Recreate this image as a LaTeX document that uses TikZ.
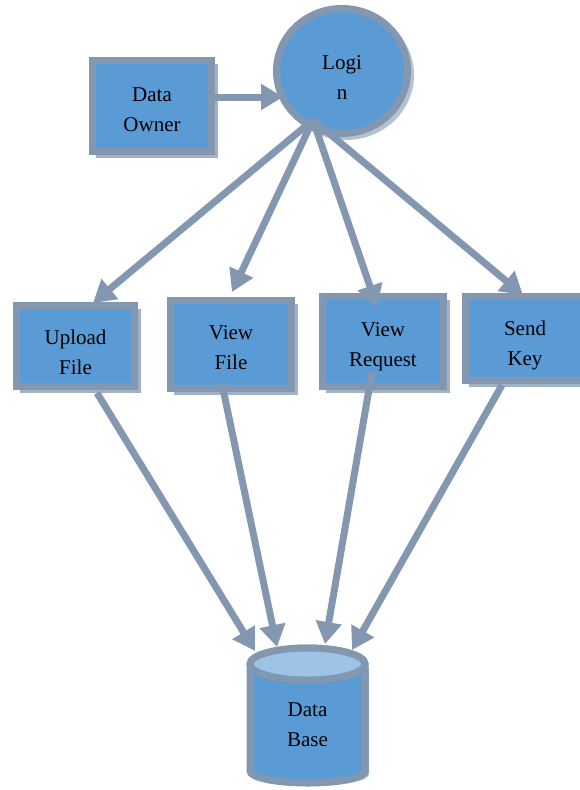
\documentclass[tikz,border=0pt]{standalone}
\usepackage{fontspec}
\setmainfont{Liberation Serif}
\usetikzlibrary{arrows.meta,shapes.geometric}
\definecolor{boxfill}{HTML}{5B9BD5}
\definecolor{boxline}{HTML}{8497B0}
\definecolor{dbtop}{HTML}{9DC3E6}
\newcommand\twolines[2]{\raisebox{-#1}[\height][\depth]{\begin{tabular}{@{}c@{}}#2\end{tabular}}}
\begin{document}
\begin{tikzpicture}[x=1pt,y=-1pt,
  lbl/.style={font=\fontsize{21}{30}\selectfont, align=center, text=black},
  procbox/.style={lbl, draw=boxline, fill=boxfill, line width=7pt, inner sep=0pt, outer sep=0pt},
  shadowbox/.style={fill=boxline, opacity=0.75},
  flow/.style={draw=boxline, line width=7pt, -{Triangle[length=22pt,width=25pt]}}]
\useasboundingbox (0,0) rectangle (579,790);

% shadows
\fill[shadowbox] (96,64) rectangle (218,158);
\fill[shadowbox] (20,309) rectangle (141,393);
\fill[shadowbox] (174,304) rectangle (298,395);
\fill[shadowbox] (326,300) rectangle (450,393);
\fill[shadowbox] (469,300) rectangle (588,387);
\fill[shadowbox, opacity=0.6] (346,75) ellipse [x radius=68, y radius=65];

% nodes
\node[procbox, minimum width=119pt, minimum height=91pt] (owner) at (152,106) {\twolines{4pt}{Data\\Owner}};
\node[procbox, ellipse, minimum width=131pt, minimum height=125pt] (login) at (342,71) {\twolines{7pt}{Logi\\n}};
\node[procbox, minimum width=118pt, minimum height=81pt] (upload) at (75.5,346) {\twolines{7pt}{Upload\\File}};
\node[procbox, minimum width=121pt, minimum height=88pt] (viewfile) at (231,344.5) {\twolines{4pt}{View\\File}};
\node[procbox, minimum width=121pt, minimum height=90pt] (viewreq) at (383,341.5) {\twolines{4pt}{View\\Request}};
\node[procbox, minimum width=119pt, minimum height=84pt] (sendkey) at (525,338.5) {\twolines{6pt}{Send\\Key}};

% database cylinder
\fill[boxline, opacity=0.75] (254,668) -- (254,774) arc[start angle=180, end angle=0, x radius=57.5, y radius=12] -- (369,668) -- cycle;
\draw[line width=7pt, draw=boxline, fill=boxfill] (250,664) -- (250,771) arc[start angle=180, end angle=0, x radius=57.5, y radius=12] -- (365,664) arc[start angle=0, end angle=-180, x radius=57.5, y radius=16] -- cycle;
\draw[line width=7pt, draw=boxline, fill=dbtop] (307.5,664) ellipse [x radius=57.5, y radius=16];
\node[lbl] (db) at (307.5,725) {Data\\Base};

% connector end points
\coordinate (hub) at (313,120);
\coordinate (upin) at (93,303);
\coordinate (vfin) at (232,292);
\coordinate (vrin) at (377,307);
\coordinate (skin) at (523,295);
\coordinate (upout) at (97,393);
\coordinate (vfout) at (222,384);
\coordinate (vrout) at (372,372);
\coordinate (skout) at (502,385);
\coordinate (dbin1) at (255,651);
\coordinate (dbin2) at (277,647);
\coordinate (dbin3) at (325,644);
\coordinate (dbin4) at (352,650);
\coordinate (loginin) at (283,97);

% connectors
\draw[flow] (owner.east |- loginin) -- (loginin);
\draw[flow] (hub) -- (upin);
\draw[flow] (hub) -- (vfin);
\draw[flow] (hub) -- (vrin);
\draw[flow] (hub) -- (skin);
\draw[flow] (upout) -- (dbin1);
\draw[flow] (vfout) -- (dbin2);
\draw[flow] (vrout) -- (dbin3);
\draw[flow] (skout) -- (dbin4);
\end{tikzpicture}
\end{document}
